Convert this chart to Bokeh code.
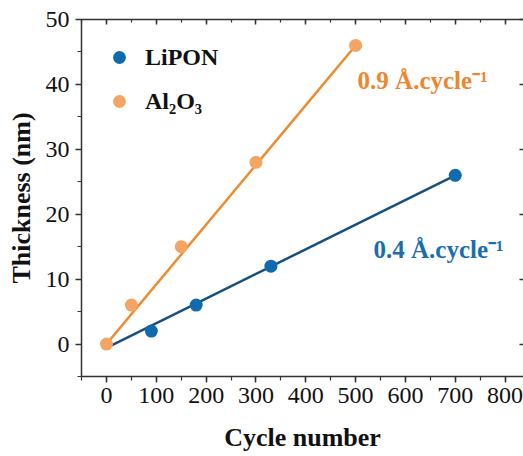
from bokeh.plotting import figure
from bokeh.models import (Range1d, LinearAxis, SingleIntervalTicker, Legend, LegendItem,
                          CustomJSTickFormatter)
from bokeh.core.properties import value
from bokeh.embed import file_html
from bokeh.resources import INLINE

# ---- data ----
lipon_cycles = [90, 180, 330, 700]
lipon_thick = [2, 6, 12, 26]
lipon_fit_cycles = [0, 700]
lipon_fit_thick = [-0.6, 26]

al2o3_cycles = [0, 50, 150, 300, 500]
al2o3_thick = [0, 6, 15, 28, 46]
al2o3_fit_cycles = [0, 500]
al2o3_fit_thick = [0, 46]

series_names = ["LiPON", "Al\u2082O\u2083"]
rate_labels = ["0.9 \u00c5.cycle\u207b\u00b9", "0.4 \u00c5.cycle\u207b\u00b9"]

# ---- annotation anchors (data units) ----
al_label_pos = (504, 40.6)
li_label_pos = (536, 14.5)

FONT = "Liberation Serif"
AX = "#333333"
BLUE_PT = "#0f6aae"
BLUE_LN = "#17507e"
ORANGE_PT = "#f4a563"
ORANGE_LN = "#ef8a2f"

p = figure(width=523, height=456, output_backend="svg", toolbar_location=None,
           x_range=Range1d(-50.2, 837), y_range=Range1d(-5, 50),
           min_border_left=81, min_border_right=0, min_border_top=19, min_border_bottom=80,
           x_axis_label="Cycle number", y_axis_label="Thickness (nm)")
p.outline_line_color = None
p.xgrid.visible = False
p.ygrid.visible = False
p.background_fill_color = "white"
p.border_fill_color = "white"

blank = CustomJSTickFormatter(code="return ''")

def style_axis(ax, labels=True):
    ax.axis_line_color = AX
    ax.axis_line_width = 1.5
    ax.major_tick_line_color = AX
    ax.minor_tick_line_color = AX
    ax.major_tick_line_width = 1.5
    ax.minor_tick_line_width = 1.2
    ax.major_label_text_font = FONT
    ax.major_label_text_font_size = "24px"
    ax.major_label_text_color = "#111111"
    ax.axis_label_text_font = FONT
    ax.axis_label_text_font_style = "bold"
    ax.axis_label_text_font_size = "26px"
    ax.axis_label_text_color = "#111111"
    if not labels:
        ax.formatter = blank

xb = p.xaxis[0]
xb.ticker = SingleIntervalTicker(interval=100, num_minor_ticks=2)
style_axis(xb)
xb.major_tick_out = 6; xb.major_tick_in = 0
xb.minor_tick_out = 4; xb.minor_tick_in = 0
xb.major_label_standoff = 5
xb.axis_label_standoff = 17

yl = p.yaxis[0]
yl.ticker = SingleIntervalTicker(interval=10, num_minor_ticks=2)
style_axis(yl)
yl.major_tick_out = 6; yl.major_tick_in = 0
yl.minor_tick_out = 4; yl.minor_tick_in = 0
yl.major_label_standoff = 6
yl.axis_label_standoff = 7

xt = LinearAxis(ticker=SingleIntervalTicker(interval=100, num_minor_ticks=2))
style_axis(xt, labels=False)
xt.major_tick_in = 5; xt.major_tick_out = 0
xt.minor_tick_in = 3; xt.minor_tick_out = 0
xt.major_label_standoff = 0
p.add_layout(xt, "above")

yr = LinearAxis(ticker=SingleIntervalTicker(interval=10, num_minor_ticks=0))
style_axis(yr, labels=False)
yr.axis_line_color = None
yr.major_tick_in = 4; yr.major_tick_out = 0
yr.minor_tick_line_color = None
yr.major_label_standoff = 0
p.add_layout(yr, "right")

# fits
p.line(lipon_fit_cycles, lipon_fit_thick, line_color=BLUE_LN, line_width=2.5)
p.line(al2o3_fit_cycles, al2o3_fit_thick, line_color=ORANGE_LN, line_width=2.5)

# points
r_li = p.scatter(lipon_cycles, lipon_thick, size=13, fill_color=BLUE_PT, line_color=None)
r_al = p.scatter(al2o3_cycles, al2o3_thick, size=13, fill_color=ORANGE_PT, line_color=None)

# rate labels
p.text(x=[al_label_pos[0]], y=[al_label_pos[1]], text=[rate_labels[0]],
       text_font=value(FONT), text_font_style="bold", text_font_size="25px",
       text_color="#ee8630", text_baseline="alphabetic", text_align="left")
p.text(x=[li_label_pos[0]], y=[li_label_pos[1]], text=[rate_labels[1]],
       text_font=value(FONT), text_font_style="bold", text_font_size="25px",
       text_color="#1b6db1", text_baseline="alphabetic", text_align="left")

legend = Legend(items=[LegendItem(label=series_names[0], renderers=[r_li]),
                       LegendItem(label=series_names[1], renderers=[r_al])],
                location="top_left")
legend.border_line_color = None
legend.background_fill_alpha = 0
legend.margin = 22
legend.padding = 0
legend.glyph_width = 32
legend.glyph_height = 32
legend.label_standoff = 10
legend.spacing = 12
legend.label_text_font = FONT
legend.label_text_font_style = "bold"
legend.label_text_font_size = "24px"
legend.label_text_color = "#111111"
p.add_layout(legend)

open("out.html", "w").write(file_html(p, INLINE))
